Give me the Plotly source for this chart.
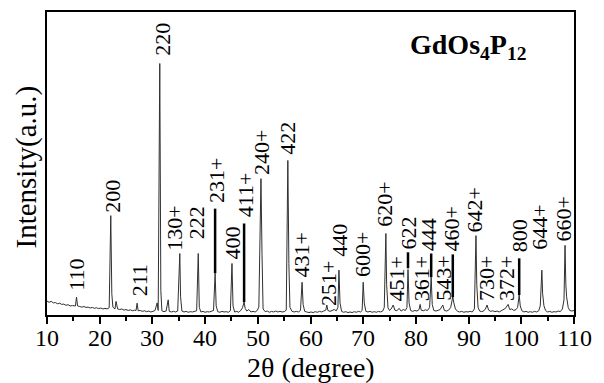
import plotly.graph_objects as go

# Spectrum (2theta in degrees, intensity in arbitrary units 0-100)
two_theta = [
    10.0, 10.4, 10.8, 11.2, 11.6, 12.0, 12.4, 12.8, 13.2, 13.6, 14.0, 14.4, 14.8, 15.2, 15.4, 15.6, 15.8,
    16.2, 16.6, 17.0, 17.4, 17.8, 18.2, 18.6, 19.0, 19.4, 19.8, 20.2, 20.6, 21.0, 21.4, 21.8,
    22.1, 22.3, 22.5, 22.9, 23.1, 23.4, 23.8, 24.2, 24.6, 25.0, 25.4, 25.8, 26.2, 26.6, 26.9,
    27.1, 27.3, 27.7, 28.1, 28.5, 28.9, 29.3, 29.7, 30.1, 30.5, 30.9, 31.1, 31.4, 31.6, 31.8,
    32.2, 32.6, 33.0, 33.2, 33.6, 34.0, 34.4, 34.8, 35.2, 35.35, 35.6, 36.0, 36.4, 36.8, 37.2,
    37.6, 38.0, 38.4, 38.7, 38.9, 39.2, 39.6, 40.0, 40.4, 40.8, 41.2, 41.6, 41.9, 42.1, 42.4,
    42.8, 43.2, 43.6, 44.0, 44.4, 44.8, 45.1, 45.3, 45.6, 46.0, 46.4, 46.8, 47.1, 47.4, 47.6,
    47.9, 48.3, 48.7, 49.1, 49.5, 49.9, 50.2, 50.6, 50.8, 51.0, 51.4, 51.8, 52.2, 52.6, 53.0,
    53.4, 53.8, 54.2, 54.6, 55.0, 55.4, 55.7, 55.9, 56.1, 56.5, 56.9, 57.3, 57.7, 58.1, 58.4,
    58.6, 58.9, 59.3, 59.7, 60.1, 60.5, 60.9, 61.3, 61.7, 62.1, 62.5, 62.9, 63.1, 63.3, 63.7,
    64.1, 64.5, 64.9, 65.2, 65.4, 65.6, 65.9, 66.3, 66.7, 67.1, 67.5, 67.9, 68.3, 68.7, 69.1,
    69.5, 69.8, 70.0, 70.2, 70.5, 70.9, 71.3, 71.7, 72.1, 72.5, 72.9, 73.3, 73.7, 74.0, 74.3,
    74.45, 74.7, 75.0, 75.3, 75.7, 76.0, 76.4, 76.8, 77.2, 77.6, 78.0, 78.3, 78.5, 78.7, 79.0,
    79.4, 79.8, 80.2, 80.6, 80.8, 81.0, 81.4, 81.8, 82.2, 82.6, 82.9, 83.1, 83.4, 83.8, 84.2,
    84.6, 85.1, 85.4, 85.8, 86.2, 86.6, 87.0, 87.2, 87.5, 87.9, 88.3, 88.7, 89.1, 89.5, 89.9,
    90.3, 90.7, 91.1, 91.4, 91.55, 91.8, 92.1, 92.5, 92.9, 93.2, 93.5, 93.8, 94.2, 94.6, 95.0,
    95.4, 95.8, 96.2, 96.6, 97.0, 97.5, 97.8, 98.2, 98.6, 99.0, 99.3, 99.6, 99.8, 100.1, 100.5,
    100.9, 101.3, 101.7, 102.1, 102.5, 102.9, 103.3, 103.6, 103.9, 104.05, 104.3, 104.6, 105.0, 105.4, 105.8,
    106.2, 106.6, 107.0, 107.4, 107.8, 108.1, 108.3, 108.45, 108.6, 108.9, 109.2, 109.6, 110.0,
]
intensity = [
    4.6, 4.2, 4.5, 4.0, 4.1, 3.7, 3.9, 3.5, 3.6, 3.2, 3.4, 3.0, 3.1, 3.0, 3.0, 5.9, 3.0,
    2.8, 2.6, 2.8, 2.5, 2.6, 2.3, 2.5, 2.2, 2.4, 2.1, 2.3, 2.0, 2.2, 2.0, 2.4,
    32.8, 7.0, 2.6, 2.0, 4.5, 2.0, 1.8, 2.0, 1.6, 1.8, 1.5, 1.7, 1.4, 1.6, 1.5,
    3.9, 1.4, 1.5, 1.2, 1.4, 1.1, 1.3, 1.0, 1.2, 1.5, 4.0, 1.5, 83.0, 8.0, 1.4,
    1.1, 1.3, 5.0, 1.2, 1.0, 1.2, 1.0, 1.3, 20.3, 6.0, 1.3, 1.0, 1.2, 0.9, 1.1,
    1.0, 1.2, 1.4, 20.3, 2.5, 1.0, 1.2, 0.9, 1.1, 1.0, 1.2, 1.5, 13.8, 3.0, 1.1,
    0.9, 1.2, 1.0, 1.1, 0.9, 1.4, 17.0, 3.0, 1.0, 1.2, 0.9, 1.6, 2.4, 4.3, 2.2,
    1.3, 1.8, 1.0, 1.2, 1.0, 1.5, 2.6, 45.0, 20.0, 2.0, 1.1, 1.3, 0.9, 1.2, 1.0,
    1.3, 1.0, 1.2, 1.0, 1.1, 1.6, 51.0, 17.0, 2.5, 1.2, 1.0, 1.2, 1.0, 1.5, 10.8,
    3.5, 1.2, 1.0, 0.8, 1.0, 0.8, 1.1, 0.9, 1.2, 1.0, 1.3, 1.6, 3.3, 1.5, 1.2,
    1.5, 1.8, 1.4, 2.5, 14.8, 4.0, 1.2, 0.9, 1.1, 0.8, 1.0, 0.8, 1.1, 0.9, 1.2,
    1.0, 1.5, 10.8, 4.0, 1.2, 1.0, 1.2, 0.9, 1.1, 0.9, 1.2, 1.0, 1.3, 2.5, 26.9,
    10.0, 2.4, 1.5, 2.0, 3.3, 1.6, 1.4, 2.2, 1.3, 1.8, 1.5, 2.5, 15.0, 4.0, 1.5,
    1.2, 1.5, 1.3, 1.8, 3.5, 1.6, 1.4, 1.7, 1.5, 2.5, 12.5, 3.5, 1.5, 1.3, 1.6,
    1.8, 3.3, 1.5, 1.3, 1.6, 2.5, 6.0, 4.0, 2.0, 1.2, 1.0, 1.2, 0.9, 1.1, 1.0,
    1.2, 1.0, 2.0, 26.2, 10.0, 2.5, 1.3, 1.1, 1.4, 2.0, 3.3, 1.6, 1.2, 1.4, 1.1,
    1.3, 1.0, 1.5, 1.8, 2.2, 3.5, 1.8, 2.0, 1.5, 1.8, 2.5, 6.6, 3.0, 1.4, 1.0,
    1.2, 0.9, 1.1, 0.9, 1.2, 1.0, 1.4, 3.0, 14.8, 7.0, 3.0, 1.5, 1.0, 1.2, 0.9,
    1.1, 1.0, 1.3, 1.1, 2.0, 5.0, 23.0, 10.0, 6.0, 2.5, 1.5, 1.3, 1.5,
]

# Peak (hkl) labels: text, label position (2theta), label bottom (intensity)
peak_labels = ["110", "200", "211", "220", "130+", "222", "231+", "400", "411+", "240+",
               "422", "431+", "251+", "440", "600+", "620+", "451+", "622", "361+", "444",
               "543+", "460+", "642+", "730+", "372+", "800", "644+", "660+"]
label_x = [15.6, 22.4, 27.5, 31.9, 34.3, 38.5, 42.2, 45.2, 47.6, 50.7,
           55.6, 58.3, 63.4, 65.6, 70.0, 74.1, 76.4, 78.6, 81.1, 82.4,
           85.2, 86.8, 91.3, 93.4, 97.2, 99.8, 103.5, 108.0]
label_y = [7.5, 33.4, 5.9, 85.2, 20.7, 24.6, 36.7, 18.0, 31.8, 45.9,
           52.5, 12.1, 2.6, 18.7, 12.1, 28.9, 4.3, 21.3, 4.3, 20.7,
           4.3, 20.7, 26.9, 4.3, 4.3, 20.3, 21.3, 23.9]

# Leader bars linking weak peaks to their labels
leader_x = [41.9, 47.4, 78.5, 82.9, 87.0, 99.6]
leader_low = [13.8, 4.3, 15.4, 12.5, 5.9, 6.6]
leader_high = [35.1, 30.2, 20.7, 20.3, 20.0, 18.7]

# x-axis tick labels
tick_values = [10, 20, 30, 40, 50, 60, 70, 80, 90, 100, 110]
tick_labels = ["10", "20", "30", "40", "50", "60", "70", "80", "90", "100", "110"]

FONT = "Liberation Serif"

fig = go.Figure()
fig.add_trace(go.Scatter(x=two_theta, y=intensity, mode="lines",
                         line=dict(color="#303030", width=1), showlegend=False,
                         hoverinfo="skip"))

lx, ly = [], []
for x, lo, hi in zip(leader_x, leader_low, leader_high):
    lx += [x, x, None]
    ly += [lo, hi, None]
fig.add_trace(go.Scatter(x=lx, y=ly, mode="lines",
                         line=dict(color="black", width=2.5), showlegend=False,
                         hoverinfo="skip"))

for t, x, y in zip(peak_labels, label_x, label_y):
    fig.add_annotation(x=x, y=y, xref="x", yref="y", text=t, showarrow=False,
                       textangle=-90, xanchor="center", yanchor="bottom",
                       font=dict(family=FONT, size=22, color="black"), borderpad=0)

for v, t in zip(tick_values, tick_labels):
    fig.add_annotation(x=v, y=-0.075, xref="x", yref="paper", text=t, showarrow=False,
                       xanchor="center", yanchor="middle",
                       font=dict(family=FONT, size=24, color="black"))

fig.add_annotation(x=0.80, y=0.885, xref="paper", yref="paper",
                   text="<b>GdOs<sub>4</sub>P<sub>12</sub></b>", showarrow=False,
                   xanchor="center", yanchor="middle",
                   font=dict(family=FONT, size=28, color="black"))
fig.add_annotation(x=0.5, y=-0.172, xref="paper", yref="paper",
                   text="2θ (degree)", showarrow=False, xanchor="center", yanchor="middle",
                   font=dict(family=FONT, size=28, color="black"))
fig.add_annotation(x=-0.038, y=0.49, xref="paper", yref="paper",
                   text="Intensity(a.u.)", showarrow=False, textangle=-90,
                   xanchor="center", yanchor="middle",
                   font=dict(family=FONT, size=29, color="black"))

# The page body adds an 8px offset; size the figure so the plot area lands
# where the reference's does.
fig.update_layout(
    width=596, height=375,
    margin=dict(l=39, r=30, t=2, b=68),
    paper_bgcolor="white", plot_bgcolor="white",
    font=dict(family=FONT, color="black"),
    xaxis=dict(range=[10, 110], tickvals=tick_values, showticklabels=False,
               ticks="outside", ticklen=7,
               tickwidth=1.5, tickcolor="black", showline=True, linewidth=2,
               linecolor="black", mirror=True, showgrid=False, zeroline=False,
               minor=dict(dtick=5, tick0=5, ticks="outside", ticklen=4, tickwidth=1.5,
                          tickcolor="black", showgrid=False)),
    yaxis=dict(range=[0, 100], showticklabels=False, ticks="", showline=True,
               linewidth=2, linecolor="black", mirror=True, showgrid=False,
               zeroline=False),
)

fig.write_html("out.html")
